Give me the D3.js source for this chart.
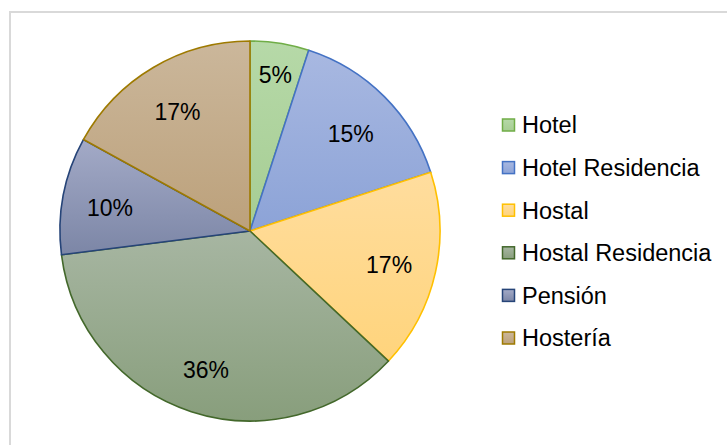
<!DOCTYPE html>
<html lang="es">
<head>
<meta charset="utf-8">
<script src="https://d3js.org/d3.v7.min.js"></script>
<style>
  body { margin: 0; background: #fff; }
  svg { display: block; font-family: "Liberation Sans", Arial, sans-serif; }
</style>
</head>
<body>
<div id="chart"></div>
<script>
// data
var categories = ["Hotel", "Hotel Residencia", "Hostal", "Hostal Residencia", "Pensión", "Hostería"];
var values = [5, 15, 17, 36, 10, 17];
var lightColors = ["#b6d9a8", "#a8b8e1", "#ffdd9e", "#a7b6a2", "#a3aac7", "#cbb79b"];
var darkColors = ["#a6cd93", "#8ca3d7", "#ffd47c", "#889e7c", "#7c86a6", "#bca17b"];
var strokeColors = ["#70ad47", "#4472c4", "#ffc000", "#43682b", "#264478", "#9e7a00"];

var width = 727, height = 445;
var cx = 250, cy = 231, radius = 190;

var svg = d3.select("#chart")
  .append("svg")
    .attr("width", width)
    .attr("height", height);

// chart frame (cut off on the right and bottom)
svg.append("rect")
  .attr("x", 10).attr("y", 12)
  .attr("width", width + 20).attr("height", height + 20)
  .attr("fill", "none")
  .attr("stroke", "#d9d9d9")
  .attr("stroke-width", 2);

// gradients
var defs = svg.append("defs");
categories.forEach(function(c, i) {
  var g = defs.append("linearGradient")
    .attr("id", "grad" + i)
    .attr("x1", 0).attr("y1", 0).attr("x2", 0).attr("y2", 1);
  g.append("stop").attr("offset", "0%").attr("stop-color", lightColors[i]);
  g.append("stop").attr("offset", "100%").attr("stop-color", darkColors[i]);
});

var data = categories.map(function(c, i) { return { name: c, value: values[i], i: i }; });
var total = d3.sum(values);

var pie = d3.pie()
  .sort(null)
  .value(function(d) { return d.value; });

var arc = d3.arc().innerRadius(0).outerRadius(radius);

var g = svg.append("g")
  .attr("transform", "translate(" + cx + "," + cy + ")");

var arcs = pie(data);

g.selectAll("path")
  .data(arcs)
  .enter()
  .append("path")
    .attr("d", arc)
    .attr("fill", function(d) { return "url(#grad" + d.data.i + ")"; })
    .attr("stroke", function(d) { return strokeColors[d.data.i]; })
    .attr("stroke-width", 1.6)
    .attr("stroke-linejoin", "round");

// labels: narrow slices get pushed further out
g.selectAll("text.lbl")
  .data(arcs)
  .enter()
  .append("text")
    .attr("class", "lbl")
    .attr("transform", function(d) {
      var r = (d.data.value / total < 0.08 ? 0.85 : 0.75) * radius;
      var a = (d.startAngle + d.endAngle) / 2;
      return "translate(" + (Math.sin(a) * r) + "," + (-Math.cos(a) * r + 3) + ")";
    })
    .attr("text-anchor", "middle")
    .attr("dy", "0.36em")
    .attr("font-size", 23)
    .attr("fill", "#000")
    .text(function(d) { return Math.round(d.data.value / total * 100) + "%"; });

// legend
var legend = svg.append("g")
  .attr("transform", "translate(502,125)");

var item = legend.selectAll("g")
  .data(data)
  .enter()
  .append("g")
    .attr("transform", function(d, i) { return "translate(0," + (i * 42.6) + ")"; });

item.append("rect")
  .attr("x", 0.5).attr("y", -6)
  .attr("width", 12).attr("height", 12)
  .attr("fill", function(d) { return "url(#grad" + d.i + ")"; })
  .attr("stroke", function(d) { return strokeColors[d.i]; })
  .attr("stroke-width", 1.5);

item.append("text")
  .attr("x", 20)
  .attr("dy", "0.36em")
  .attr("font-size", 23.5)
  .attr("fill", "#000")
  .text(function(d) { return d.name; });
</script>
</body>
</html>
